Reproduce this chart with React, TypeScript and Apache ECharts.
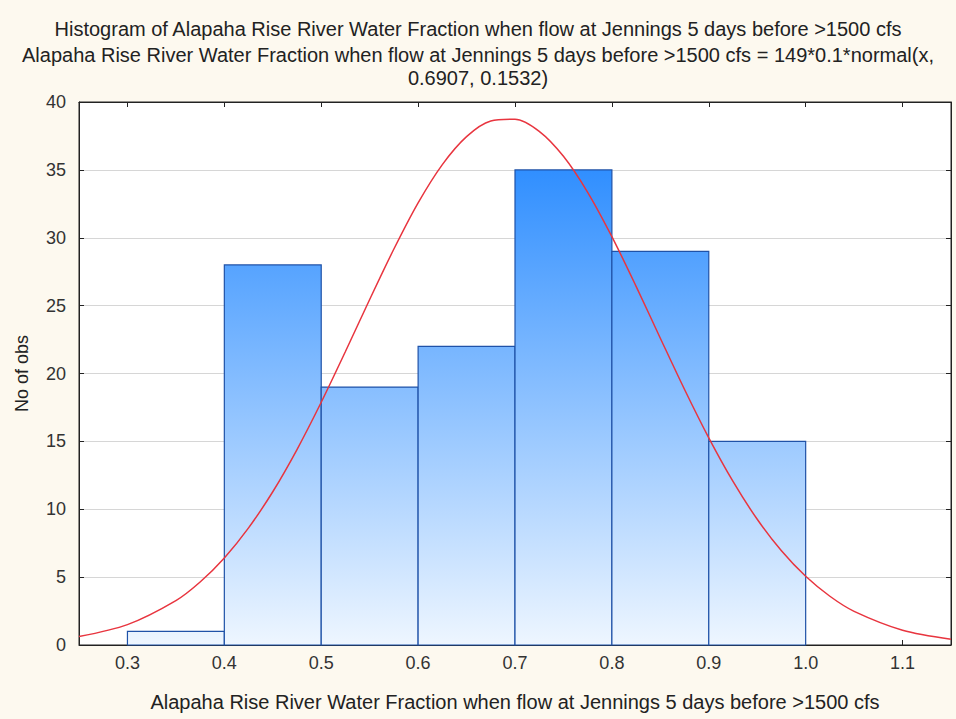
import React, { useEffect, useRef } from "react";
import * as echarts from "echarts";

const binStarts = [0.3, 0.4, 0.5, 0.6, 0.7, 0.8, 0.9];
const binWidth = 0.1;
const binCounts = [1, 28, 19, 22, 35, 29, 15];

const curveX = [0.25, 0.3, 0.35, 0.375, 0.4, 0.425, 0.45, 0.475, 0.5, 0.525, 0.55, 0.575, 0.6, 0.625, 0.65, 0.675, 0.7, 0.725, 0.75, 0.775, 0.8, 0.825, 0.85, 0.875, 0.9, 0.925, 0.95, 0.975, 1.0, 1.025, 1.05, 1.1, 1.15];
const curveY = [0.62, 1.5, 3.27, 4.64, 6.41, 8.63, 11.29, 14.4, 17.88, 21.62, 25.45, 29.17, 32.57, 35.39, 37.45, 38.6, 38.73, 37.84, 36.0, 33.35, 30.08, 26.42, 22.6, 18.82, 15.26, 12.05, 9.26, 6.94, 5.06, 3.59, 2.48, 1.09, 0.43];

const xTicks = [0.3, 0.4, 0.5, 0.6, 0.7, 0.8, 0.9, 1.0, 1.1];

const titleLines = [
  "Histogram of Alapaha Rise River Water Fraction when flow at Jennings 5 days before >1500 cfs",
  "Alapaha Rise River Water Fraction when flow at Jennings 5 days before >1500 cfs = 149*0.1*normal(x,",
  "0.6907, 0.1532)",
];
const xName = "Alapaha Rise River Water Fraction when flow at Jennings 5 days before >1500 cfs";
const yName = "No of obs";

const GRID = { left: 79, right: 5, top: 102, bottom: 74 };
const FONT = "Arial, 'Liberation Sans', sans-serif";

export default function App() {
  const ref = useRef<HTMLDivElement>(null);
  useEffect(() => {
    if (!ref.current) return;
    const chart = echarts.init(ref.current, null, { renderer: "svg" });
    const barData = binStarts.map((s, i) => [s, s + binWidth, binCounts[i]]);
    const grad = new echarts.graphic.LinearGradient(
      0, GRID.top, 0, 719 - GRID.bottom,
      [
        { offset: 0, color: "#1580FF" },
        { offset: 1, color: "#EEF6FF" },
      ],
      true
    );
    const option: any = {
      animation: false,
      backgroundColor: "#FDF9EF",
      textStyle: { fontFamily: FONT },
      title: titleLines.map((t, i) => ({
        text: t,
        left: "center",
        top: [14, 40, 63][i],
        textStyle: { fontSize: 20, fontWeight: "normal", color: "#222", fontFamily: FONT },
      })),
      grid: { ...GRID, show: true, backgroundColor: "#FFFFFF", borderColor: "#222", borderWidth: 1 },
      xAxis: [
        {
          type: "value",
          min: 0.25,
          max: 1.15,
          name: xName,
          nameLocation: "middle",
          nameGap: 47,
          nameTextStyle: { fontSize: 20, color: "#222" },
          axisLine: { show: true, onZero: false, lineStyle: { color: "#222" } },
          axisTick: { show: true, inside: true, length: 5, customValues: xTicks, lineStyle: { color: "#222" } },
          axisLabel: {
            customValues: xTicks,
            fontSize: 18,
            color: "#333",
            margin: 9,
            formatter: (v: number) => v.toFixed(1),
          },
          splitLine: { show: false },
        },
        {
          type: "value",
          position: "top",
          min: 0.25,
          max: 1.15,
          axisLine: { show: true, onZero: false, lineStyle: { color: "#222" } },
          axisTick: { show: true, inside: true, length: 5, customValues: xTicks, lineStyle: { color: "#222" } },
          axisLabel: { show: false },
          splitLine: { show: false },
        },
      ],
      yAxis: [
        {
          type: "value",
          min: 0,
          max: 40,
          interval: 5,
          name: yName,
          nameLocation: "middle",
          nameGap: 48,
          nameTextStyle: { fontSize: 18, color: "#222" },
          axisLine: { show: true, onZero: false, lineStyle: { color: "#222" } },
          axisTick: { show: true, inside: true, length: 5, lineStyle: { color: "#222" } },
          axisLabel: { fontSize: 18, color: "#333", margin: 13 },
          splitLine: { show: true, lineStyle: { color: "#D6D6D6", width: 1 } },
        },
        {
          type: "value",
          position: "right",
          min: 0,
          max: 40,
          interval: 5,
          axisLine: { show: true, onZero: false, lineStyle: { color: "#222" } },
          axisTick: { show: true, inside: true, length: 5, lineStyle: { color: "#222" } },
          axisLabel: { show: false },
          splitLine: { show: false },
        },
      ],
      series: [
        {
          type: "custom",
          xAxisIndex: 0,
          yAxisIndex: 0,
          data: barData,
          encode: { x: [0, 1], y: 2 },
          renderItem: (params: any, api: any) => {
            const p0 = api.coord([api.value(0), api.value(2)]);
            const p1 = api.coord([api.value(1), 0]);
            return {
              type: "rect",
              shape: { x: p0[0], y: p0[1], width: p1[0] - p0[0], height: p1[1] - p0[1] },
              style: { fill: grad, stroke: "#1F52A8", lineWidth: 1.2 },
            };
          },
          z: 2,
        },
        {
          type: "line",
          xAxisIndex: 0,
          yAxisIndex: 0,
          data: curveX.map((x, i) => [x, curveY[i]]),
          smooth: 0.3,
          showSymbol: false,
          lineStyle: { color: "#E8353F", width: 1.5 },
          z: 3,
        },
      ],
    };
    chart.setOption(option);
    return () => chart.dispose();
  }, []);
  return (
    <div
      ref={ref}
      style={{ position: "fixed", left: 0, top: 0, width: 956, height: 719 }}
    />
  );
}
